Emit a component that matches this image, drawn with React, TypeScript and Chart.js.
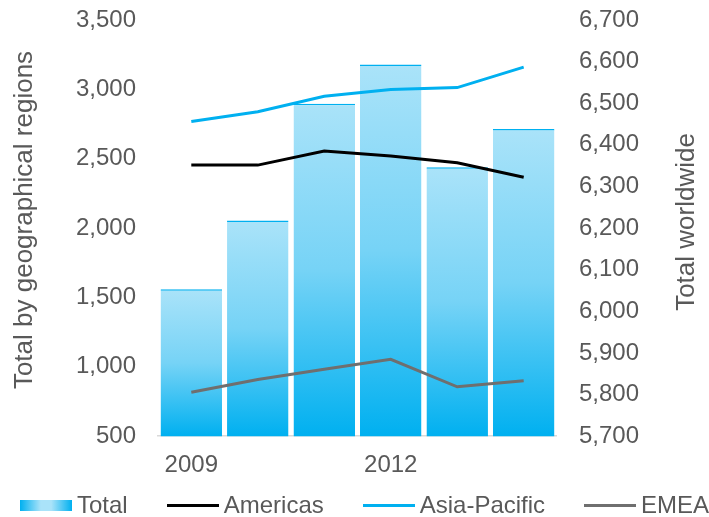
import React, { useEffect, useRef } from "react";
import { Chart, registerables } from "chart.js";

Chart.register(...registerables);

const years = ["2009", "2010", "2011", "2012", "2013", "2014"];
const totalWorldwide = [6053, 6218, 6499, 6593, 6346, 6438];
const americas = [2454, 2454, 2556, 2519, 2471, 2367];
const asiaPacific = [2769, 2839, 2950, 2999, 3013, 3160];
const emea = [817, 909, 982, 1054, 856, 900];

const FONT = "'Liberation Sans', Arial, sans-serif";
const TEXT = "#595959";
const BLUE = "#00B0F0";
const LIGHT = "#AAE3F9";
const MID = "#76D3F6";

const titlePlugin = {
  id: "axisTitles",
  afterDraw(chart: any) {
    const ctx = chart.ctx;
    ctx.save();
    ctx.fillStyle = TEXT;
    ctx.font = `26px ${FONT}`;
    ctx.textAlign = "center";
    ctx.textBaseline = "middle";
    ctx.translate(25, 220);
    ctx.rotate(-Math.PI / 2);
    ctx.fillText("Total by geographical regions", 0, 0);
    ctx.restore();
    ctx.save();
    ctx.fillStyle = TEXT;
    ctx.font = `26px ${FONT}`;
    ctx.textAlign = "center";
    ctx.textBaseline = "middle";
    ctx.translate(687, 222);
    ctx.rotate(-Math.PI / 2);
    ctx.fillText("Total worldwide", 0, 0);
    ctx.restore();
  },
};

const zeroPad = (s: any) => {
  s.paddingTop = 0;
  s.paddingBottom = 0;
  s.paddingLeft = 0;
  s.paddingRight = 0;
};

export default function App() {
  const ref = useRef<HTMLCanvasElement>(null);
  useEffect(() => {
    document.body.style.margin = "0";
    const chart = new Chart(ref.current!, {
      type: "bar",
      data: {
        labels: years,
        datasets: [
          {
            type: "line",
            label: "Americas",
            data: americas,
            borderColor: "#000000",
            borderWidth: 3,
            pointRadius: 0,
            yAxisID: "y",
            order: 0,
            tension: 0,
          },
          {
            type: "line",
            label: "Asia-Pacific",
            data: asiaPacific,
            borderColor: BLUE,
            borderWidth: 3,
            pointRadius: 0,
            yAxisID: "y",
            order: 0,
            tension: 0,
          },
          {
            type: "line",
            label: "EMEA",
            data: emea,
            borderColor: "#6F6F6F",
            borderWidth: 3,
            pointRadius: 0,
            yAxisID: "y",
            order: 0,
            tension: 0,
          },
          {
            type: "bar",
            label: "Total",
            data: totalWorldwide,
            yAxisID: "y2",
            order: 1,
            barPercentage: 0.925,
            categoryPercentage: 1,
            borderColor: BLUE,
            borderWidth: { top: 1.5, left: 0, right: 0, bottom: 0 },
            borderSkipped: "start",
            backgroundColor: (c: any) => {
              const ch = c.chart;
              const area = ch.chartArea;
              if (!area || c.raw == null) return BLUE;
              const top = ch.scales.y2.getPixelForValue(c.raw);
              const g = ch.ctx.createLinearGradient(0, top, 0, area.bottom);
              g.addColorStop(0, LIGHT);
              g.addColorStop(0.5, MID);
              g.addColorStop(1, BLUE);
              return g;
            },
          } as any,
        ],
      },
      options: {
        animation: false,
        responsive: false,
        layout: { padding: { left: 54, right: 48, top: 20, bottom: 22 } },
        plugins: { legend: { display: false }, tooltip: { enabled: false } },
        scales: {
          x: {
            afterFit: zeroPad,
            grid: { display: false, drawTicks: false },
            border: { display: true, color: "#D9D9D9", width: 1.5 },
            ticks: {
              color: TEXT,
              font: { family: FONT, size: 24 },
              padding: 15,
              autoSkip: false,
              maxRotation: 0,
              callback: (_v: any, i: number) => (i % 3 === 0 ? years[i] : ""),
            },
          },
          y: {
            position: "left",
            min: 500,
            max: 3500,
            afterFit: zeroPad,
            grid: { display: false, drawTicks: false },
            border: { display: false },
            ticks: {
              stepSize: 500,
              color: TEXT,
              font: { family: FONT, size: 24 },
              padding: 22,
              autoSkip: false,
            },
          },
          y2: {
            position: "right",
            min: 5700,
            max: 6700,
            afterFit: zeroPad,
            grid: { display: false, drawTicks: false },
            border: { display: false },
            ticks: {
              stepSize: 100,
              color: TEXT,
              font: { family: FONT, size: 24 },
              padding: 22,
              autoSkip: false,
            },
          },
        },
      },
      plugins: [titlePlugin],
    });
    return () => chart.destroy();
  }, []);

  const legendItems = [
    { label: "Total", kind: "box", color: "" },
    { label: "Americas", kind: "line", color: "#000000" },
    { label: "Asia-Pacific", kind: "line", color: BLUE },
    { label: "EMEA", kind: "line", color: "#6F6F6F" },
  ];

  return (
    <div style={{ position: "relative", width: 709, height: 517, overflow: "hidden" }}>
      <canvas ref={ref} width={709} height={517} style={{ display: "block" }} />
      <div
        style={{
          position: "absolute",
          left: 20,
          top: 492,
          display: "flex",
          alignItems: "center",
          gap: 39,
          fontFamily: FONT,
          fontSize: 24,
          color: TEXT,
          whiteSpace: "nowrap",
          lineHeight: "26px",
        }}
      >
        {legendItems.map((it) => (
          <div key={it.label} style={{ display: "flex", alignItems: "center", gap: 5 }}>
            {it.kind === "box" ? (
              <div
                style={{
                  width: 52,
                  height: 11,
                  background: `linear-gradient(90deg, ${BLUE} 0%, ${LIGHT} 40%, ${LIGHT} 60%, ${BLUE} 100%)`,
                }}
              />
            ) : (
              <div style={{ width: 52, height: 3, background: it.color }} />
            )}
            <span>{it.label}</span>
          </div>
        ))}
      </div>
    </div>
  );
}
